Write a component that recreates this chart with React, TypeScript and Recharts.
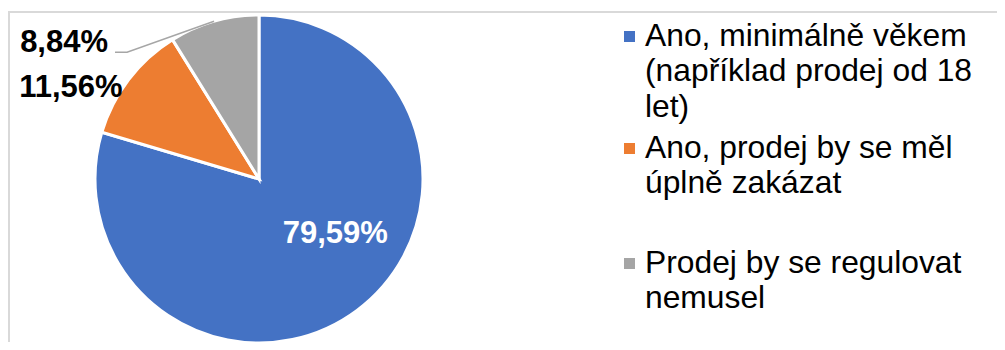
import React from "react";
import { PieChart, Pie, Cell, Legend } from "recharts";

const categories = [
  "Ano, minimálně věkem (například prodej od 18 let)",
  "Ano, prodej by se měl úplně zakázat",
  "Prodej by se regulovat nemusel",
];
const values = [79.59, 11.56, 8.84];
const labels = ["79,59%", "11,56%", "8,84%"];
const colors = ["#4472C4", "#ED7D31", "#A5A5A5"];

const data = categories.map((name, i) => ({ name, value: values[i], label: labels[i] }));

const FONT = "'Liberation Sans', Arial, sans-serif";

const RAD = Math.PI / 180;

const renderLabel = (props: any) => {
  const { cx, cy, midAngle, outerRadius, index } = props;
  const ox = cx + outerRadius * Math.cos(-midAngle * RAD);
  const oy = cy + outerRadius * Math.sin(-midAngle * RAD);
  if (index === 0) {
    return (
      <text
        x={cx + outerRadius * 0.465}
        y={cy + outerRadius * 0.39}
        fill="#ffffff"
        fontFamily={FONT}
        fontSize={31}
        fontWeight="bold"
        textAnchor="middle"
      >
        {labels[index]}
      </text>
    );
  }
  if (index === 1) {
    return (
      <text
        x={ox - 6}
        y={oy + 18}
        fill="#000000"
        fontFamily={FONT}
        fontSize={31}
        fontWeight="bold"
        textAnchor="end"
      >
        {labels[index]}
      </text>
    );
  }
  // index 2: moved label with leader line
  const lx = ox - 106;
  const ly = oy + 31;
  return (
    <g>
      <polyline
        points={`${lx + 7},${ly} ${lx + 19},${ly} ${ox},${oy}`}
        fill="none"
        stroke="#A6A6A6"
        strokeWidth={1.5}
      />
      <text
        x={lx}
        y={ly}
        fill="#000000"
        fontFamily={FONT}
        fontSize={31}
        fontWeight="bold"
        textAnchor="end"
      >
        {labels[index]}
      </text>
    </g>
  );
};

const itemMargins = [0, 5.5, 44];

const renderLegend = (props: any) => {
  const { payload } = props;
  return (
    <div style={{ fontFamily: FONT, fontSize: 31.8, lineHeight: "35.5px", color: "#000" }}>
      {(payload || []).map((entry: any, i: number) => (
        <div key={i} style={{ position: "relative", marginTop: itemMargins[i], paddingLeft: 21, width: 345 }}>
          <span
            style={{
              position: "absolute",
              left: 0,
              top: 13.5,
              width: 11,
              height: 11,
              background: entry.color,
            }}
          />
          {entry.value}
        </div>
      ))}
    </div>
  );
};

export default function App() {
  return (
    <div
      style={{
        position: "relative",
        width: 1005,
        height: 350,
        margin: -8,
        overflow: "hidden",
        background: "#fff",
      }}
    >
      <div
        style={{
          position: "absolute",
          left: 8,
          top: 11,
          width: 1010,
          height: 360,
          border: "2px solid #D9D9D9",
          boxSizing: "border-box",
        }}
      />
      <div style={{ position: "absolute", left: 0, top: 0 }}>
        <PieChart width={1005} height={350} margin={{ top: 0, right: 0, bottom: 0, left: 0 }}>
          <Pie
            data={data}
            dataKey="value"
            nameKey="name"
            cx={259}
            cy={179}
            outerRadius={164}
            startAngle={90}
            endAngle={-270}
            stroke="#ffffff"
            strokeWidth={3}
            label={renderLabel}
            labelLine={false}
            isAnimationActive={false}
          >
            {data.map((d, i) => (
              <Cell key={d.name} fill={colors[i]} />
            ))}
          </Pie>
          <Legend
            layout="vertical"
            align="right"
            verticalAlign="top"
            content={renderLegend}
            wrapperStyle={{ position: "absolute", left: 624, top: 17.5, width: 380 }}
          />
        </PieChart>
      </div>
    </div>
  );
}
